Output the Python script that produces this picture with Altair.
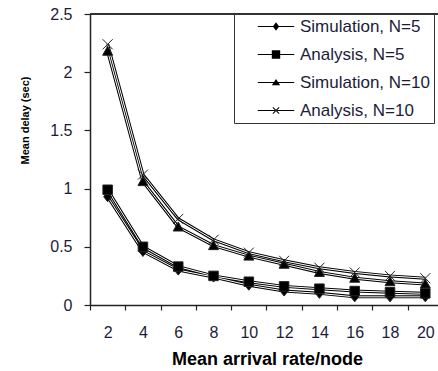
import altair as alt
import pandas as pd

rate = [2, 4, 6, 8, 10, 12, 14, 16, 18, 20]
series_names = ["Simulation, N=5", "Analysis, N=5", "Simulation, N=10", "Analysis, N=10"]
sim5 = [0.93, 0.46, 0.30, 0.24, 0.17, 0.12, 0.10, 0.07, 0.07, 0.07]
ana5 = [0.99, 0.50, 0.33, 0.25, 0.20, 0.16, 0.14, 0.12, 0.11, 0.10]
sim10 = [2.18, 1.06, 0.67, 0.51, 0.42, 0.35, 0.28, 0.23, 0.20, 0.18]
ana10 = [2.24, 1.12, 0.74, 0.56, 0.45, 0.38, 0.32, 0.28, 0.25, 0.23]
y_ticks = [0, 0.5, 1, 1.5, 2, 2.5]

rows = []
for name, vals in zip(series_names, [sim5, ana5, sim10, ana10]):
    for r, v in zip(rate, vals):
        rows.append({"rate": r, "delay": v, "series": name})
df = pd.DataFrame(rows)

W, H = 348, 291
XMAX = 20.72
step = W / (XMAX - 1)  # pixels per unit

LABEL_COLOR = "#1c1c3a"
FONT = "Liberation Sans"

xenc = alt.X(
    "rate:Q",
    scale=alt.Scale(domain=[1, XMAX], nice=False, zero=False),
    axis=alt.Axis(
        values=rate, grid=False, tickSize=5, tickOffset=-step, labelOffset=step,
        tickColor="#222", domainColor="#222", domainWidth=1.5, tickWidth=1.2,
        labelPadding=14, labelFont=FONT, labelFontSize=16, labelColor=LABEL_COLOR,
        title="Mean arrival rate/node", titleFont=FONT, titleFontSize=18,
        titleFontWeight="bold", titleColor="black", titleY=59, titleX=177,
        titleBaseline="alphabetic", titleAlign="center",
    ),
)
yenc = alt.Y(
    "delay:Q",
    scale=alt.Scale(domain=[0, 2.5], nice=False),
    axis=alt.Axis(
        values=y_ticks, format="~g", grid=False, tickSize=6, tickColor="#222",
        domainColor="#222", domainWidth=1.5, tickWidth=1.2, labelPadding=12,
        labelFont=FONT, labelFontSize=16, labelColor=LABEL_COLOR,
        title="Mean delay (sec)", titleFont=FONT, titleFontSize=11,
        titleFontWeight="bold", titleColor="black", titleX=-65, titleY=106,
        titleAngle=-90, titleAlign="center", titleBaseline="middle",
    ),
)

base = alt.Chart(df).encode(x=xenc, y=yenc, detail="series:N")

outer = base.mark_line(color="black", strokeWidth=3)
inner = base.mark_line(color="white", strokeWidth=1)

point_paths = [
    "M0,-1L0.8,0L0,1L-0.8,0Z",
    "M-0.95,-0.95H0.95V0.95H-0.95Z",
    "M0,-1L1,0.8H-1Z",
    "M-1,-1L1,1M-1,1L1,-1",
]
points = base.mark_point(
    filled=True, size=100, opacity=1, color="black", stroke="#222", strokeWidth=1
).encode(
    shape=alt.Shape("series:N", scale=alt.Scale(domain=series_names, range=point_paths), legend=None)
)

# legend symbols: a thin bar (the line) with the marker at its centre, as filled shapes
bar = "M-2.6,-0.08H2.6V0.08H-2.6Z"
legend_paths = [
    bar + "M0,-0.6L0.45,0L0,0.6L-0.45,0Z",
    bar + "M-0.6,-0.6H0.6V0.6H-0.6Z",
    bar + "M0,-0.5L0.6,0.4H-0.6Z",
    bar + "M-0.5,-0.4L-0.4,-0.5L0.5,0.4L0.4,0.5ZM-0.5,0.4L-0.4,0.5L0.5,-0.4L0.4,-0.5Z",
]
NB = "\u00a0"
legend_layer = alt.Chart(df).transform_filter("false").mark_point(
    filled=True, opacity=1, color="black", size=196
).encode(
    x=xenc, y=yenc,
    shape=alt.Shape(
        "series:N",
        scale=alt.Scale(domain=series_names, range=legend_paths),
        legend=alt.Legend(
            title=None, orient="none", legendX=144, legendY=0,
            symbolSize=196, symbolOffset=29.5, labelOffset=15.5, rowPadding=10, padding=4,
            strokeColor="#333", fillColor="white",
            labelFont=FONT, labelFontSize=17, labelColor=LABEL_COLOR,
            labelExpr=f"datum.label + '{NB * 5}'", labelLimit=400,
            symbolFillColor="black", symbolOpacity=1,
        ),
    ),
)

top_line = alt.Chart(df).mark_rule(color="#333", strokeWidth=1).encode(y=alt.datum(2.5))

chart = alt.layer(top_line, outer, inner, points, legend_layer).resolve_scale(
    shape="independent"
).properties(
    width=W, height=H,
    autosize=alt.AutoSizeParams(type="none"),
    padding={"left": 90, "top": 14, "right": 0, "bottom": 66},
    background="white",
).configure_view(stroke=None)

chart.save("out.html", embed_options={"renderer": "svg", "actions": False})
